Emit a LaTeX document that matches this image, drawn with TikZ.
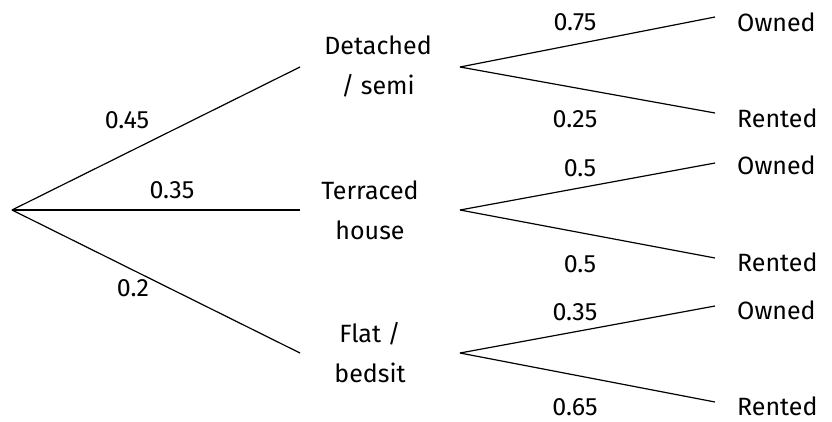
\documentclass[tikz,border=0pt]{standalone}
\usepackage{fontspec}
\setmainfont{Fira Sans}
\begin{document}
\begin{tikzpicture}[x=1pt,y=-1pt,
  lbl/.style={font=\fontsize{25}{30}\selectfont, inner sep=0pt, anchor=center},
  mid/.style={lbl, align=center, font=\fontsize{25}{40}\selectfont},
  leaf/.style={lbl, anchor=west},
  edge/.style={line width=1.2pt}]
\useasboundingbox (0,0) rectangle (832,421);
\coordinate (root) at (12,210);
\coordinate (a1) at (300,67);
\coordinate (b1) at (300,210);
\coordinate (c1) at (300,353);
\coordinate (a2) at (460,67);
\coordinate (b2) at (460,210);
\coordinate (c2) at (460,353);
\node[mid] (A) at (378,66) {Detached\\/ semi};
\node[mid] (B) at (370,210) {Terraced\\house};
\node[mid] (C) at (370,353) {Flat /\\bedsit};
\coordinate (ao) at (715,17);
\coordinate (ar) at (715,113);
\coordinate (bo) at (715,163);
\coordinate (br) at (715,258);
\coordinate (co) at (715,306);
\coordinate (cr) at (715,402);
\node[leaf] (AO) at (737,22) {Owned};
\node[leaf] (AR) at (737,118) {Rented};
\node[leaf] (BO) at (737,165) {Owned};
\node[leaf] (BR) at (737,262) {Rented};
\node[leaf] (CO) at (737,310) {Owned};
\node[leaf] (CR) at (737,406) {Rented};
\draw[edge] (root) -- (a1);
\draw[edge] (root) -- (b1);
\draw[edge] (root) -- (c1);
\draw[edge] (a2) -- (ao);
\draw[edge] (a2) -- (ar);
\draw[edge] (b2) -- (bo);
\draw[edge] (b2) -- (br);
\draw[edge] (c2) -- (co);
\draw[edge] (c2) -- (cr);
\node[lbl] (p1) at (127,120) {0.45};
\node[lbl] (p2) at (172,190) {0.35};
\node[lbl] (p3) at (133,288) {0.2};
\node[lbl] (q1) at (575,22) {0.75};
\node[lbl] (q2) at (575,119) {0.25};
\node[lbl] (q3) at (580,168) {0.5};
\node[lbl] (q4) at (580,264) {0.5};
\node[lbl] (q5) at (575,312) {0.35};
\node[lbl] (q6) at (575,407) {0.65};
\end{tikzpicture}
\end{document}
